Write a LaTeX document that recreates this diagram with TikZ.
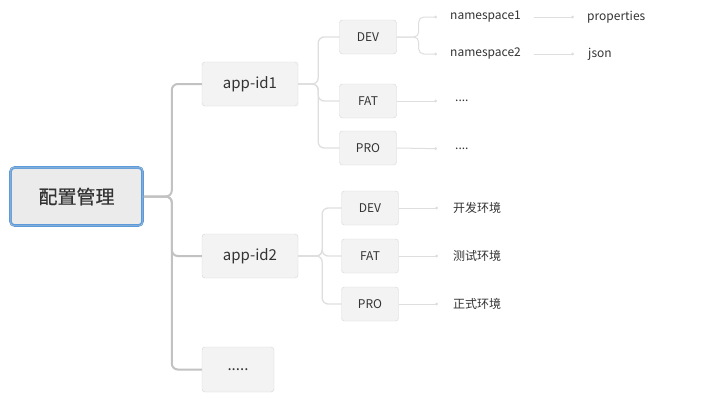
\documentclass[tikz,border=0pt]{standalone}
\usepackage{fontspec}
\setmainfont{Noto Sans CJK SC}
\newfontfamily\rootfont[FakeBold=0.5]{Noto Sans CJK SC}
\usetikzlibrary{arrows.meta, positioning}

\definecolor{boxfill}{HTML}{F3F3F3}
\definecolor{boxline}{HTML}{D6D6D6}
\definecolor{rootfill}{HTML}{EBEBEB}
\definecolor{rootblue}{HTML}{5B9BDC}
\definecolor{trunkgray}{HTML}{C2C2C2}
\definecolor{twiggray}{HTML}{DEDEDE}
\definecolor{inkgray}{HTML}{333333}

\begin{document}
\begin{tikzpicture}[
            x=1pt, y=-1pt,
            rootbox/.style={rectangle, draw=rootblue, line width=2.6pt, fill=rootfill,
                rounded corners=4pt, minimum width=132pt, minimum height=58pt,
                font=\rootfont\fontsize{19}{22}\selectfont, text=inkgray
            },
            appbox/.style={rectangle, draw=boxline, fill=boxfill, rounded corners=3pt,
                minimum width=96pt, minimum height=44pt,
                font=\fontsize{15}{18}\selectfont, text=inkgray
            },
            envbox/.style={rectangle, draw=boxline, fill=boxfill, rounded corners=3pt,
                minimum width=57pt, minimum height=34pt,
                font=\fontsize{12}{14}\selectfont, text=inkgray
            },
            leaf/.style={anchor=west, inner sep=0pt,
                font=\fontsize{12}{14}\selectfont, text=inkgray
            },
            trunk/.style={draw=trunkgray, line width=2pt, rounded corners=6pt},
            branch/.style={draw=twiggray, line width=1.3pt, rounded corners=6pt},
            twig/.style={draw=twiggray, line width=1pt, rounded corners=5pt,
                -{Circle[length=2.6pt]}, shorten >=13pt
            }
        ]
            \useasboundingbox (0,0) rectangle (728,402);

            % root and first level
            \node [rootbox] (root) at (76.5,196.5) {配置管理};
            \draw [draw=boxline!120, rounded corners=2pt]
                ([shift={(1.6pt,-1.6pt)}]root.north west) rectangle ([shift={(-1.6pt,1.6pt)}]root.south east);
            \node [appbox] (app1) at (250,84) {app-id1};
            \node [appbox] (app2) at (250,256) {app-id2};
            \node [appbox, minimum width=72pt, minimum height=45pt] (app3) at (238,369.5) {.....};

            % environments
            \node [envbox] (dev1) at (368,37) {DEV};
            \node [envbox] (fat1) at (368,101) {FAT};
            \node [envbox] (pro1) at (368,148) {PRO};
            \node [envbox] (dev2) at (370,208) {DEV};
            \node [envbox] (fat2) at (370,256) {FAT};
            \node [envbox] (pro2) at (370,304) {PRO};

            % leaves
            \node [leaf] (ns1) at (450,17) {namespace1};
            \node [leaf] (ns2) at (450,54) {namespace2};
            \node [leaf] (props) at (587,17) {properties};
            \node [leaf] (json) at (588,54) {json};
            \node [leaf] (fatmore) at (455,101) {....};
            \node [leaf] (promore) at (455,149) {....};
            \node [leaf] (devenv) at (453,208) {开发环境};
            \node [leaf] (fatenv) at (453,256) {测试环境};
            \node [leaf] (proenv) at (453,304) {正式环境};

            % connectors
            \draw [trunk] (root.east) -- ++(28,0) |- (app1.west);
            \draw [trunk] (root.east) -- ++(28,0) |- (app2.west);
            \draw [trunk] (root.east) -- ++(28,0) |- (app3.west);

            \draw [branch] (app1.east) -- ++(20,0) |- (dev1.west);
            \draw [branch] (app1.east) -- ++(20,0) |- (fat1.west);
            \draw [branch] (app1.east) -- ++(20,0) |- (pro1.west);
            \draw [branch] (app2.east) -- ++(24,0) |- (dev2.west);
            \draw [branch] (app2.east) -- ++(24,0) |- (fat2.west);
            \draw [branch] (app2.east) -- ++(24,0) |- (pro2.west);

            \draw [twig] (dev1.east) -- ++(22,0) |- (ns1.west);
            \draw [twig] (dev1.east) -- ++(22,0) |- (ns2.west);
            \draw [twig, shorten <=13pt] (ns1.east) -- (props.west);
            \draw [twig, shorten <=13pt] (ns2.east) -- (props.west |- json.west);
            \draw [twig, shorten >=18pt] (fat1.east) -- (fatmore.west);
            \draw [twig, shorten >=18pt] (pro1.east) -- (promore.west);
            \draw [twig, shorten >=15pt] (dev2.east) -- (devenv.west);
            \draw [twig, shorten >=15pt] (fat2.east) -- (fatenv.west);
            \draw [twig, shorten >=15pt] (pro2.east) -- (proenv.west);
        \end{tikzpicture}
\end{document}
